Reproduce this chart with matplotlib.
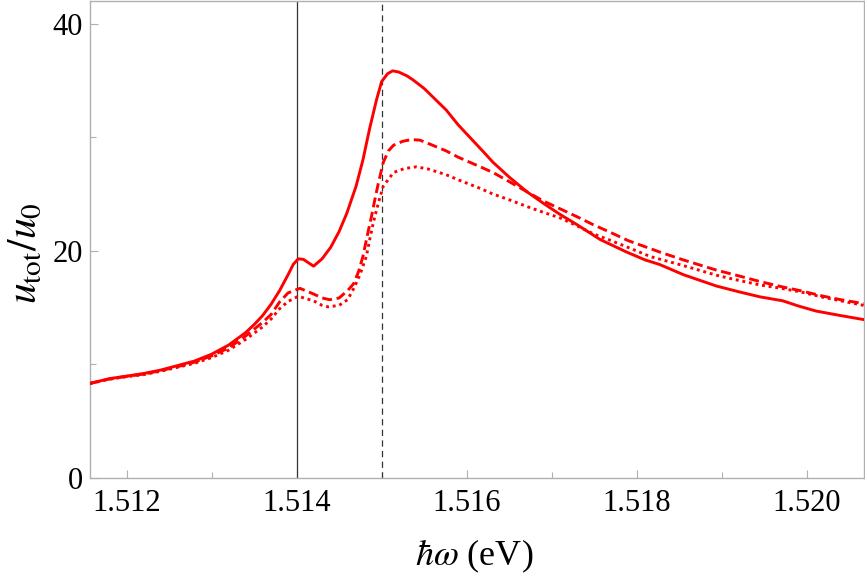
import matplotlib
matplotlib.use("Agg")
import matplotlib.pyplot as plt
from matplotlib.ticker import MultipleLocator

# ---- data ----
solid_x = [1.51157, 1.5118, 1.5120, 1.5122, 1.5124, 1.5126, 1.5128, 1.5130, 1.5132, 1.5134,
           1.5135, 1.5136, 1.5137, 1.5138, 1.5139, 1.51396, 1.51402, 1.51408, 1.5142, 1.5143,
           1.5144, 1.5145, 1.51459, 1.5147, 1.51478, 1.51486, 1.51494, 1.5150, 1.51507,
           1.51513, 1.5152, 1.5153, 1.51537, 1.5155, 1.51576, 1.5159, 1.5162, 1.51631,
           1.5165, 1.51671, 1.5169, 1.5171, 1.5173, 1.51757, 1.51788, 1.5181, 1.51827,
           1.51855, 1.51894, 1.5192, 1.51945, 1.51972, 1.5199, 1.52011, 1.5204, 1.52067]
solid_y = [8.33, 8.75, 8.97, 9.2, 9.5, 9.9, 10.3, 10.9, 11.7, 12.8,
           13.5, 14.3, 15.3, 16.5, 17.9, 18.8, 19.3, 19.25, 18.65, 19.3,
           20.3, 21.7, 23.3, 25.7, 28.0, 30.8, 33.3, 34.9, 35.6,
           35.85, 35.75, 35.4, 35.05, 34.3, 32.4, 31.1, 28.7, 27.8,
           26.5, 25.2, 24.2, 23.2, 22.3, 21.0, 19.9, 19.2, 18.8,
           17.9, 16.9, 16.4, 15.95, 15.6, 15.15, 14.7, 14.3, 13.95]

dashed_x = [1.51157, 1.5118, 1.5120, 1.5122, 1.5124, 1.5126, 1.5128, 1.5130, 1.5132, 1.5134,
            1.5136, 1.5137, 1.5138, 1.5139, 1.51404, 1.5142, 1.5143, 1.51439, 1.5145, 1.5146,
            1.51467, 1.51473, 1.51478, 1.51483, 1.51488, 1.51492, 1.51496, 1.51502, 1.51508,
            1.51514, 1.51525, 1.51535, 1.51545, 1.5156, 1.51576, 1.5159, 1.51616, 1.51631,
            1.5165, 1.51671, 1.5169, 1.5171, 1.5173, 1.51749, 1.51767, 1.5179, 1.51816,
            1.51827, 1.51855, 1.51894, 1.5192, 1.51945, 1.5197, 1.51992, 1.5202, 1.5204, 1.52067]
dashed_y = [8.33, 8.72, 8.95, 9.15, 9.45, 9.8, 10.2, 10.75, 11.45, 12.5,
            13.7, 14.4, 15.5, 16.3, 16.7, 16.2, 15.85, 15.7, 15.85, 16.5,
            17.1, 18.2, 19.5, 21.3, 23.0, 24.5, 25.9, 27.8, 28.8,
            29.3, 29.65, 29.8, 29.75, 29.3, 28.8, 28.25, 27.4, 26.9,
            26.1, 25.2, 24.4, 23.7, 23.0, 22.3, 21.7, 20.9, 20.2,
            19.9, 19.2, 18.3, 17.8, 17.3, 16.85, 16.5, 16.0, 15.7, 15.35]

dotted_x = [1.51157, 1.5118, 1.5120, 1.5122, 1.5124, 1.5126, 1.5128, 1.5130, 1.5132, 1.5134,
            1.5136, 1.5137, 1.5138, 1.5139, 1.51402, 1.5142, 1.5143, 1.51437, 1.5145, 1.5146,
            1.51468, 1.51475, 1.51482, 1.51486, 1.5149, 1.51494, 1.51498, 1.51502, 1.51514,
            1.51527, 1.51541, 1.51555, 1.51576, 1.51592, 1.51616, 1.51631, 1.5165, 1.51671,
            1.5169, 1.5171, 1.5173, 1.51749, 1.5177, 1.5179, 1.51816, 1.51855, 1.51894,
            1.5192, 1.51945, 1.5197, 1.51992, 1.5202, 1.5204, 1.52067]
dotted_y = [8.33, 8.7, 8.92, 9.1, 9.4, 9.75, 10.1, 10.6, 11.25, 12.2,
            13.3, 14.0, 14.9, 15.55, 16.0, 15.6, 15.2, 15.07, 15.2, 15.7,
            16.8, 18.0, 19.5, 21.0, 22.4, 23.6, 24.7, 25.7, 26.9,
            27.25, 27.4, 27.2, 26.7, 26.2, 25.5, 25.0, 24.5, 23.9,
            23.4, 22.9, 22.2, 21.5, 20.9, 20.3, 19.5, 18.7, 17.85,
            17.4, 17.0, 16.7, 16.4, 15.9, 15.6, 15.2]

vline_solid = 1.514
vline_dashed = 1.515
x_ticks = [1.512, 1.514, 1.516, 1.518, 1.520]
x_ticklabels = ["1.512", "1.514", "1.516", "1.518", "1.520"]
y_ticks = [0, 20, 40]

# ---- figure ----
plt.rcParams["font.family"] = ["Liberation Serif", "DejaVu Serif"]
plt.rcParams["mathtext.fontset"] = "stix"

fig = plt.figure(figsize=(8.65, 5.78), dpi=100)
ax = fig.add_axes([90/865, 100/578, 774/865, 477/578])

red = "#ff0000"
ax.plot(solid_x, solid_y, color=red, lw=2.1, solid_joinstyle="round", zorder=3)
ax.plot(dashed_x, dashed_y, color=red, lw=2.1, dashes=(3.4, 1.6), zorder=3)
ax.plot(dotted_x, dotted_y, color=red, lw=2.1, dashes=(1.0, 1.3), zorder=3)

ax.axvline(vline_solid, color="#333333", lw=0.9, zorder=2)
ax.axvline(vline_dashed, color="#333333", lw=0.9, dashes=(5, 3.5), zorder=2)

ax.set_xlim(1.51157, 1.520674)
ax.set_ylim(0, 42.0)

ax.set_xticks(x_ticks)
ax.set_xticklabels(x_ticklabels)
ax.xaxis.set_minor_locator(MultipleLocator(0.001))
ax.set_yticks(y_ticks)
ax.yaxis.set_minor_locator(MultipleLocator(10))

for s in ax.spines.values():
    s.set_color("#b0b0b0")
    s.set_linewidth(1.0)

ax.tick_params(which="both", direction="in", color="#b0b0b0", width=0.8,
               top=False, right=False, labelsize=22)
ax.tick_params(which="major", length=6)
ax.tick_params(which="minor", length=4)
ax.tick_params(axis="x", which="major", pad=8)
ax.tick_params(axis="y", which="major", pad=5)

ax.set_xlabel(r"$\hbar\omega$ (eV)", fontsize=26)
ax.xaxis.set_label_coords(0.496, -0.125)
ax.set_ylabel(r"$u_{\rm tot}/u_0$", fontsize=30)
ax.yaxis.set_label_coords(-0.058, 0.472)

fig.savefig("out.png", dpi=100)
